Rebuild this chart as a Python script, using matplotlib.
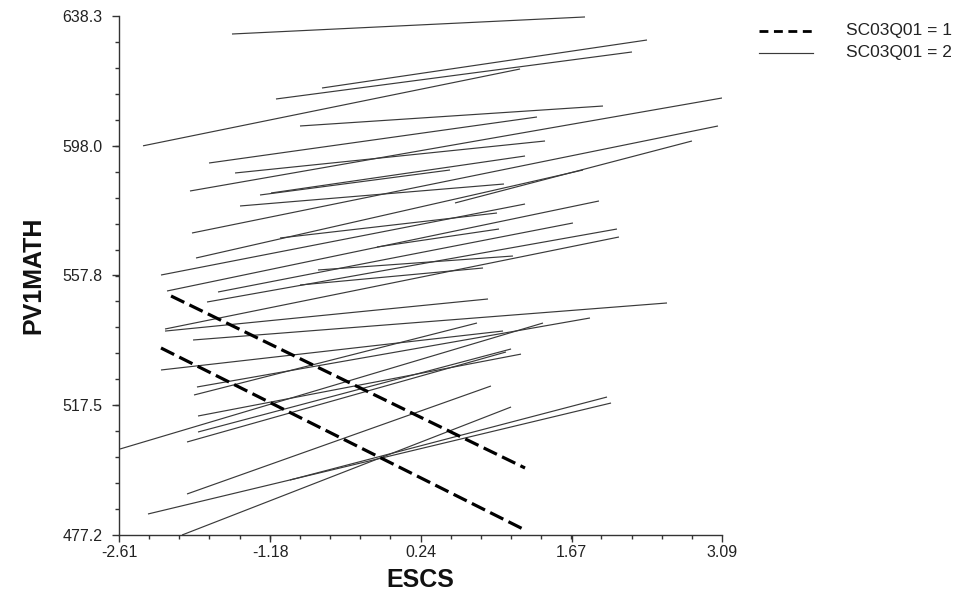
import matplotlib
matplotlib.use("Agg")
import matplotlib.pyplot as plt
from matplotlib.lines import Line2D
from matplotlib.ticker import FixedLocator
import numpy as np

plt.rcParams['font.family'] = ['Liberation Sans', 'DejaVu Sans']

# ---- data: regression segments (ESCS start/end, PV1MATH start/end) ----
# SC03Q01 = 2 (solid)
g2_x0 = [-1.542, -0.691, -1.126, -2.383, -0.899, -1.759, -1.513, -1.939, -1.920, -1.173,
         -1.466, 0.566, -1.882, -2.156, -2.213, -1.674, -1.778, -2.175, -2.175, -1.910,
         -1.088, -0.729, -0.171, -0.899, -2.600, -2.213, -1.873, -1.901, -1.863, -1.863,
         -1.967, -1.967, -2.336, -0.994, -2.014, -1.277]
g2_y0 = [632.71, 615.95, 612.54, 598.00, 604.16, 592.67, 589.57, 583.98, 570.94, 583.36,
         579.33, 580.26, 563.18, 552.94, 557.90, 552.63, 549.52, 541.14, 540.50, 537.73,
         569.39, 559.46, 566.60, 554.80, 503.90, 528.42, 523.14, 520.66, 514.14, 509.17,
         506.07, 489.93, 483.72, 494.27, 477.20, 582.74]
g2_x1 = [1.795, 2.381, 2.239, 1.181, 1.965, 1.341, 1.417, 3.090, 3.052, 1.228,
         1.029, 2.806, 1.776, 1.927, 1.228, 1.681, 2.097, 2.116, 0.878, 2.570,
         0.963, 1.114, 0.982, 0.831, 1.398, 1.020, 1.842, 0.774, 1.190, 1.096,
         1.048, 0.906, 2.041, 2.003, 1.096, 0.519]
g2_y1 = [638.00, 630.85, 627.13, 621.85, 610.36, 606.95, 599.50, 612.85, 604.16, 594.84,
         586.15, 599.50, 590.50, 580.88, 579.94, 574.05, 572.18, 569.70, 550.46, 549.22,
         577.15, 563.80, 572.18, 560.08, 543.00, 540.52, 544.56, 543.00, 533.35, 534.94,
         534.01, 523.45, 518.17, 520.03, 516.93, 590.50]
# SC03Q01 = 1 (dashed)
g1_x0 = [-2.118, -2.213]
g1_y0 = [551.39, 535.25]
g1_x1 = [1.228, 1.228]
g1_y1 = [498.00, 478.75]

x_ticks = [-2.61, -1.18, 0.24, 1.67, 3.09]
x_tick_labels = ["-2.61", "-1.18", "0.24", "1.67", "3.09"]
y_ticks = [477.2, 517.5, 557.8, 598.0, 638.3]
y_tick_labels = ["477.2", "517.5", "557.8", "598.0", "638.3"]
legend_labels = ["SC03Q01 = 1", "SC03Q01 = 2"]

W, H = 967, 602
fig = plt.figure(figsize=(W / 100, H / 100), dpi=100)
ax = fig.add_axes([119 / W, 1 - 535 / H, (722 - 119) / W, (535 - 16) / H])

for a, b, c, d in zip(g2_x0, g2_y0, g2_x1, g2_y1):
    ax.plot([a, c], [b, d], color='#3a3a3a', lw=0.85, solid_capstyle='butt')
for a, b, c, d in zip(g1_x0, g1_y0, g1_x1, g1_y1):
    ax.plot([a, c], [b, d], color='black', lw=2.3, dashes=(4.6, 1.8))

ax.set_xlim(-2.61, 3.09)
ax.set_ylim(477.2, 638.3)
for s in ['top', 'right']:
    ax.spines[s].set_visible(False)
for s in ['left', 'bottom']:
    ax.spines[s].set_color('#333333')
    ax.spines[s].set_linewidth(1.0)

ax.xaxis.set_major_locator(FixedLocator(x_ticks))
ax.set_xticklabels(x_tick_labels)
ax.xaxis.set_minor_locator(FixedLocator(list(np.linspace(-2.61, 3.09, 21))))
ax.yaxis.set_major_locator(FixedLocator(y_ticks))
ax.set_yticklabels(y_tick_labels)
ax.yaxis.set_minor_locator(FixedLocator(list(np.linspace(477.2, 638.3, 21))))
ax.tick_params(which='major', direction='out', length=5, width=1.0, color='#333333',
               labelcolor='#222222')
ax.tick_params(which='minor', direction='out', length=3, width=1.0, color='#333333')
ax.tick_params(axis='x', pad=2, labelsize=11.5)
ax.tick_params(axis='y', pad=7, labelsize=11.5)

ax.set_xlabel("ESCS", fontsize=18, fontweight='bold', labelpad=6, color='#111111')
ax.set_ylabel("PV1MATH", fontsize=18, fontweight='bold', labelpad=12, color='#111111')

# legend drawn in figure pixel coordinates
def fx(px):
    return px / W

def fy(py):
    return 1 - py / H

fig.add_artist(Line2D([fx(759), fx(813)], [fy(31), fy(31)], color='black', lw=2.0,
                      dashes=(3.2, 2.0)))
fig.add_artist(Line2D([fx(759), fx(813)], [fy(53), fy(53)], color='#3a3a3a', lw=0.85))
fig.text(fx(846), fy(31), legend_labels[0], fontsize=12.5, va='center', ha='left', color='#222222')
fig.text(fx(846), fy(53), legend_labels[1], fontsize=12.5, va='center', ha='left', color='#222222')

fig.savefig("out.png", dpi=100)
